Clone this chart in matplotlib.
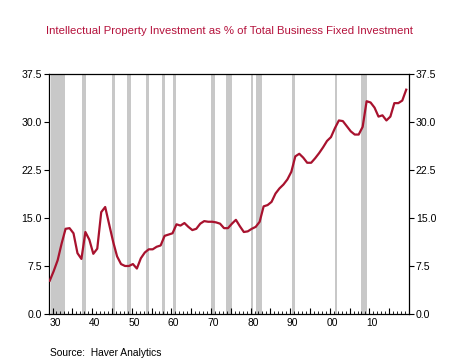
import matplotlib
matplotlib.use("Agg")
import matplotlib.pyplot as plt
import numpy as np

plt.rcParams['font.family'] = ['Liberation Sans', 'DejaVu Sans']

years = list(range(1929, 2020))
values = [5.2, 6.7, 8.4, 11.0, 13.3, 13.4, 12.6, 9.5, 8.6, 12.8,
          11.6, 9.4, 10.2, 15.9, 16.7, 14.0, 11.3, 9.0, 7.8, 7.5,
          7.5, 7.8, 7.1, 8.7, 9.6, 10.1, 10.1, 10.5, 10.7, 12.2,
          12.4, 12.6, 14.0, 13.8, 14.2, 13.6, 13.1, 13.3, 14.1, 14.5,
          14.4, 14.4, 14.3, 14.1, 13.4, 13.4, 14.1, 14.7, 13.7, 12.8,
          12.9, 13.3, 13.6, 14.4, 16.8, 17.0, 17.5, 18.8, 19.6, 20.2,
          21.0, 22.2, 24.6, 25.0, 24.4, 23.6, 23.6, 24.3, 25.1, 26.0,
          27.0, 27.6, 29.0, 30.2, 30.1, 29.3, 28.5, 28.0, 28.0, 29.2,
          33.2, 33.0, 32.2, 30.8, 31.0, 30.2, 30.8, 32.9, 32.9, 33.3,
          35.0]

recession_start = [1929.6, 1937.4, 1945.1, 1948.9, 1953.5, 1957.6, 1960.3,
                   1969.9, 1973.9, 1980.0, 1981.5, 1990.5, 2001.2, 2007.9]
recession_end = [1933.2, 1938.5, 1945.8, 1949.8, 1954.4, 1958.3, 1961.1,
                 1970.9, 1975.2, 1980.5, 1982.9, 1991.2, 2001.9, 2009.5]

tick_years = list(range(1930, 2020, 10))
tick_labels = ['30', '40', '50', '60', '70', '80', '90', '00', '10']
y_ticks = [0.0, 7.5, 15.0, 22.5, 30.0, 37.5]

fig = plt.figure(figsize=(4.58, 3.61), dpi=100)
ax = fig.add_axes([0.106, 0.130, 0.787, 0.666])

for s, e in zip(recession_start, recession_end):
    ax.axvspan(s, e, color='#C8C8C8', lw=0, zorder=1)

x = np.array(years) + 0.3
ax.plot(x, values, color='#A8122E', lw=1.6, zorder=3)

ax.set_xlim(1929, 2020)
ax.set_ylim(0, 37.5)

ax.set_yticks(y_ticks)
ax.set_yticklabels([f'{v:.1f}' for v in y_ticks])
ax.tick_params(axis='y', direction='out', length=3.5, width=0.8, labelsize=7.6,
               left=True, right=True, labelleft=True, labelright=True, pad=1.5)

# tick marks on the x axis at year boundaries
ax.set_xticks(list(range(1930, 2020, 5)))
ax.set_xticklabels([])
ax.set_xticks(list(range(1929, 2020)), minor=True)
ax.tick_params(axis='x', which='major', direction='in', length=4, width=0.8)
ax.tick_params(axis='x', which='minor', direction='in', length=2, width=0.6)

# labels centred in the year
sec = ax.secondary_xaxis('bottom')
sec.set_xticks([t + 0.6 for t in tick_years])
sec.set_xticklabels(tick_labels)
sec.tick_params(length=0, labelsize=7.4, pad=3)
sec.spines['bottom'].set_visible(False)

for sp in ax.spines.values():
    sp.set_linewidth(0.9)
    sp.set_color('black')

fig.text(0.5, 0.915, 'Intellectual Property Investment as % of Total Business Fixed Investment',
         ha='center', va='center', fontsize=8.2, color='#B5123C')
fig.text(0.109, 0.022, 'Source:  Haver Analytics', ha='left', va='center',
         fontsize=7.4, color='black')

fig.savefig('out.png', dpi=100)
